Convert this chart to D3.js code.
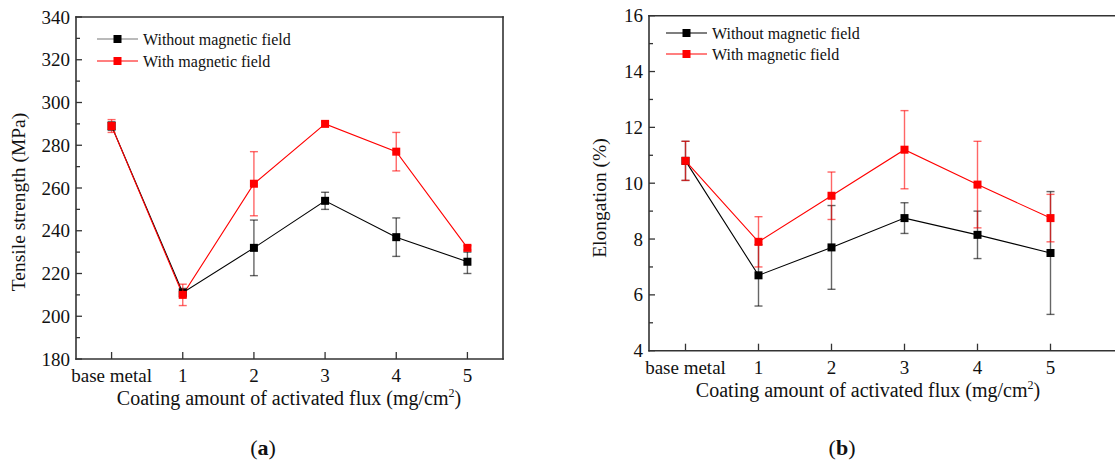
<!DOCTYPE html>
<html>
<head>
<meta charset="utf-8">
<script src="https://cdn.jsdelivr.net/npm/d3@7"></script>
<style>
  body { margin: 0; background: #fff; overflow: hidden; }
  svg { display: block; }
  svg text { font-family: "Liberation Serif", "Times New Roman", serif; fill: #111; }
</style>
</head>
<body>
<svg id="chart" width="1115" height="463"></svg>
<script>
// categories on the x axis
const categories = ["base metal", "1", "2", "3", "4", "5"];

// tensile strength (MPa): mean, low, high
const tensileWithout = [289, 211, 232, 254, 237, 225.5];
const tensileWithoutLo = [287, 209, 219, 250, 228, 220];
const tensileWithoutHi = [291, 213, 245, 258, 246, 230];
const tensileWith = [289, 210, 262, 290, 277, 232];
const tensileWithLo = [286, 205, 247, 289, 268, 231];
const tensileWithHi = [292, 215, 277, 291, 286, 233];

// elongation (%): mean, low, high
const elongWithout = [10.8, 6.7, 7.7, 8.75, 8.15, 7.5];
const elongWithoutLo = [10.1, 5.6, 6.2, 8.2, 7.3, 5.3];
const elongWithoutHi = [11.5, 7.8, 9.2, 9.3, 9.0, 9.7];
const elongWith = [10.8, 7.9, 9.55, 11.2, 9.95, 8.75];
const elongWithLo = [10.1, 7.0, 8.7, 9.8, 8.4, 7.9];
const elongWithHi = [11.5, 8.8, 10.4, 12.6, 11.5, 9.6];

const tensileTicks = [180, 200, 220, 240, 260, 280, 300, 320, 340];
const elongTicks = [4, 6, 8, 10, 12, 14, 16];

const legendNames = ["Without magnetic field", "With magnetic field"];

const svg = d3.select("#chart");

function drawPanel(opt) {
  const g = svg.append("g");
  const x = d3.scaleLinear().domain(opt.xDomain).range([opt.left, opt.right]);
  const y = d3.scaleLinear().domain(opt.yDomain).range([opt.bottom, opt.top]);
  const axisColor = "#333";

  // frame, drawn as separate edges (right edge only when it is on the page)
  const edges = [
    [opt.left, opt.top, opt.left, opt.bottom],
    [opt.left, opt.bottom, opt.right, opt.bottom],
    [opt.left, opt.top, opt.right, opt.top]
  ];
  if (opt.showRight) edges.push([opt.right, opt.top, opt.right, opt.bottom]);
  g.selectAll(".edge").data(edges).enter().append("line")
    .attr("x1", d => d[0]).attr("y1", d => d[1])
    .attr("x2", d => d[2]).attr("y2", d => d[3])
    .attr("stroke", axisColor).attr("stroke-width", 1.6)
    .attr("stroke-linecap", "square");

  // y ticks (inward), with minor ticks in between
  const step = opt.yTicks[1] - opt.yTicks[0];
  const minor = opt.yTicks.slice(0, -1).map(d => d + step / 2);
  g.selectAll(".ymaj").data(opt.yTicks).enter().append("line")
    .attr("x1", opt.left).attr("x2", opt.left + 6)
    .attr("y1", d => y(d)).attr("y2", d => y(d))
    .attr("stroke", axisColor).attr("stroke-width", 1.3);
  g.selectAll(".ymin").data(minor).enter().append("line")
    .attr("x1", opt.left).attr("x2", opt.left + 4)
    .attr("y1", d => y(d)).attr("y2", d => y(d))
    .attr("stroke", axisColor).attr("stroke-width", 1.3);
  g.selectAll(".ylab").data(opt.yTicks).enter().append("text")
    .attr("x", opt.left - 6).attr("y", d => y(d) + 6.5)
    .attr("text-anchor", "end").attr("font-size", 19)
    .text(d => d);

  // x ticks (inward)
  g.selectAll(".xt").data(categories).enter().append("line")
    .attr("x1", (d, i) => x(i)).attr("x2", (d, i) => x(i))
    .attr("y1", opt.bottom).attr("y2", opt.bottom - 7)
    .attr("stroke", axisColor).attr("stroke-width", 1.3);
  g.selectAll(".xlab").data(categories).enter().append("text")
    .attr("x", (d, i) => x(i)).attr("y", opt.bottom + 23)
    .attr("text-anchor", "middle").attr("font-size", 19)
    .text(d => d);

  // axis titles
  const xt = g.append("text")
    .attr("x", opt.xTitleX).attr("y", opt.bottom + 46)
    .attr("text-anchor", "middle").attr("font-size", 20)
    .text("Coating amount of activated flux (mg/cm");
  xt.append("tspan").attr("font-size", 12).attr("dy", -8).text("2");
  xt.append("tspan").attr("dy", 8).text(")");

  g.append("text")
    .attr("transform", `translate(${opt.yTitleX},${opt.yTitleY}) rotate(-90)`)
    .attr("text-anchor", "middle").attr("font-size", 19.5)
    .text(opt.yTitle);

  // series
  const series = [
    { color: "#000", bar: "rgba(0,0,0,0.6)", v: opt.without, lo: opt.withoutLo, hi: opt.withoutHi },
    { color: "#ff0000", bar: "rgba(255,0,0,0.6)", v: opt.with, lo: opt.withLo, hi: opt.withHi }
  ];
  const line = d3.line().x((d, i) => x(i)).y(d => y(d));

  series.forEach(s => {
    g.append("path").datum(s.v)
      .attr("d", line).attr("fill", "none")
      .attr("stroke", s.color).attr("stroke-width", 1.1);
  });

  series.forEach(s => {
    const eb = g.append("g");
    s.v.forEach((d, i) => {
      const cx = x(i);
      eb.append("line").attr("x1", cx).attr("x2", cx)
        .attr("y1", y(s.lo[i])).attr("y2", y(s.hi[i]))
        .attr("stroke", s.bar).attr("stroke-width", 1.4);
      [s.lo[i], s.hi[i]].forEach(e => {
        eb.append("line").attr("x1", cx - 4).attr("x2", cx + 4)
          .attr("y1", y(e)).attr("y2", y(e))
          .attr("stroke", s.bar).attr("stroke-width", 1.4);
      });
    });
    g.selectAll(null).data(s.v).enter().append("rect")
      .attr("x", (d, i) => x(i) - 4).attr("y", d => y(d) - 4)
      .attr("width", 8).attr("height", 8)
      .attr("fill", s.color);
  });

  // legend
  series.forEach((s, i) => {
    const ly = opt.legendY + i * opt.legendGap;
    g.append("line")
      .attr("x1", opt.legendX).attr("x2", opt.legendX + 41)
      .attr("y1", ly).attr("y2", ly)
      .attr("stroke", i === 0 ? opt.legendLine0 : s.color).attr("stroke-width", 1.2);
    g.append("rect")
      .attr("x", opt.legendX + 16.5).attr("y", ly - 4)
      .attr("width", 8).attr("height", 8).attr("fill", s.color);
    g.append("text")
      .attr("x", opt.legendX + 46).attr("y", ly + 5.5)
      .attr("font-size", 16).text(legendNames[i]);
  });

  // panel label
  const pl = g.append("text")
    .attr("x", opt.labelX).attr("y", 455)
    .attr("text-anchor", "middle").attr("font-size", 22);
  pl.append("tspan").text("(");
  pl.append("tspan").attr("font-weight", "bold").text(opt.label);
  pl.append("tspan").text(")");
}

drawPanel({
  left: 76, right: 503, top: 17, bottom: 359, showRight: true,
  xDomain: [-0.5, 5.5], yDomain: [180, 340], yTicks: tensileTicks,
  yTitle: "Tensile strength (MPa)", yTitleX: 25, yTitleY: 202, xTitleX: 289,
  without: tensileWithout, withoutLo: tensileWithoutLo, withoutHi: tensileWithoutHi,
  with: tensileWith, withLo: tensileWithLo, withHi: tensileWithHi,
  legendX: 97, legendY: 39, legendGap: 22, legendLine0: "#777",
  label: "a", labelX: 263
});

// right panel runs past the page edge, as in the reference
drawPanel({
  left: 649, right: 1160, top: 15.7, bottom: 350.7, showRight: false,
  xDomain: [-0.5, 6.5], yDomain: [4, 16], yTicks: elongTicks,
  yTitle: "Elongation (%)", yTitleX: 606, yTitleY: 198, xTitleX: 868,
  without: elongWithout, withoutLo: elongWithoutLo, withoutHi: elongWithoutHi,
  with: elongWith, withLo: elongWithLo, withHi: elongWithHi,
  legendX: 666, legendY: 33, legendGap: 21, legendLine0: "#000",
  label: "b", labelX: 842
});
</script>
</body>
</html>
